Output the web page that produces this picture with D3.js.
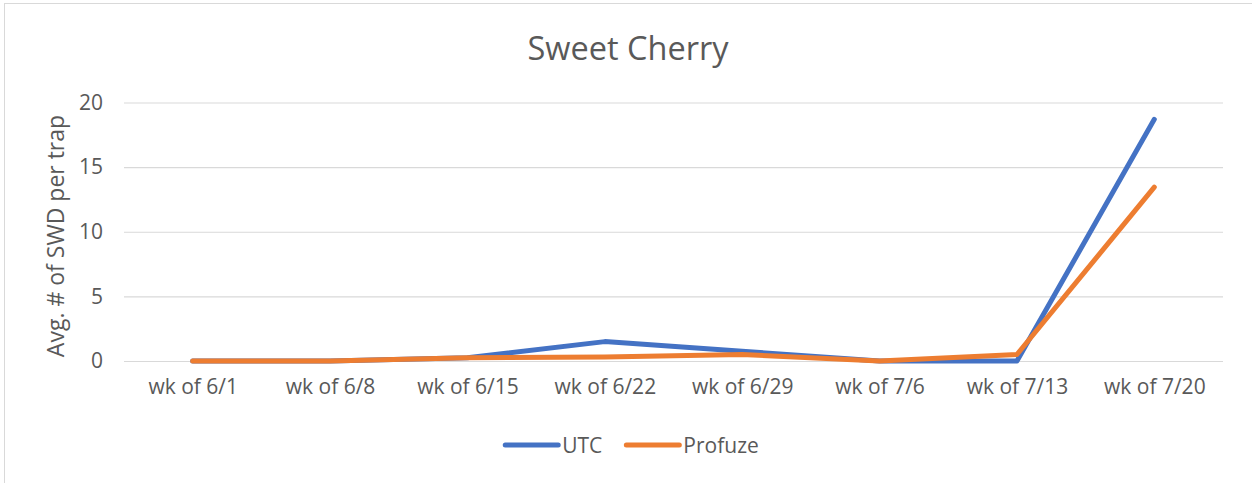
<!DOCTYPE html>
<html>
<head>
<meta charset="utf-8">
<script src="https://cdn.jsdelivr.net/npm/d3@7"></script>
<style>
  body { margin: 0; background: #fff; }
  svg { display: block; font-family: "Open Sans", sans-serif; }
</style>
</head>
<body>
<div id="chart"></div>
<script>
// donnees du graphique
const weeks = ['wk of 6/1', 'wk of 6/8', 'wk of 6/15', 'wk of 6/22', 'wk of 6/29', 'wk of 7/6', 'wk of 7/13', 'wk of 7/20'];
const utc = [0, 0, 0.25, 1.5, 0.75, 0, 0, 18.7];
const profuze = [0, 0, 0.25, 0.3, 0.5, 0, 0.5, 13.45];
const yTicks = [0, 5, 10, 15, 20];
const seriesNames = ['UTC', 'Profuze'];
const seriesColors = ['#4472C4', '#ED7D31'];

// dimensions
let width = 1252;
let height = 483;
let plot = { left: 124, right: 1223, top: 102.5, bottom: 361 };
let textColor = '#595959';
let tickSize = '21px';

let svg = d3.select('#chart').append('svg')
    .attr('width', width)
    .attr('height', height);

// cadre
svg.append('rect')
    .attr('x', 4.5)
    .attr('y', 3.5)
    .attr('width', 1250)
    .attr('height', 490)
    .attr('fill', '#fff')
    .attr('stroke', '#D9D9D9')
    .attr('stroke-width', 1);

let x = d3.scalePoint()
    .domain(weeks)
    .range([plot.left, plot.right])
    .padding(0.5);

let y = d3.scaleLinear()
    .domain([0, 20])
    .range([plot.bottom, plot.top]);

// grille + axe y
let yAxis = svg.append('g')
    .attr('transform', 'translate(' + plot.left + ',0)')
    .call(d3.axisLeft(y).tickValues(yTicks).tickSize(-(plot.right - plot.left)).tickPadding(21));

yAxis.select('.domain').remove();
yAxis.selectAll('.tick line')
    .attr('stroke', '#D9D9D9')
    .attr('stroke-width', 1.2);
yAxis.selectAll('.tick text')
    .attr('fill', textColor)
    .attr('font-size', tickSize)
    .attr('font-family', '"Open Sans", sans-serif');

// axe x
let xAxis = svg.append('g')
    .attr('transform', 'translate(0,' + plot.bottom + ')')
    .call(d3.axisBottom(x).tickSize(0).tickPadding(18));

xAxis.select('.domain').remove();
xAxis.selectAll('.tick text')
    .attr('fill', textColor)
    .attr('font-size', tickSize)
    .attr('font-family', '"Open Sans", sans-serif');

// courbes
let line = d3.line()
    .x((d, i) => x(weeks[i]))
    .y(d => y(d));

[utc, profuze].forEach(function(serie, k){
    svg.append('path')
        .datum(serie)
        .attr('fill', 'none')
        .attr('stroke', seriesColors[k])
        .attr('stroke-width', 5)
        .attr('stroke-linecap', 'round')
        .attr('stroke-linejoin', 'round')
        .attr('d', line);
});

// titre
svg.append('text')
    .attr('x', 628)
    .attr('y', 60)
    .attr('text-anchor', 'middle')
    .attr('fill', textColor)
    .attr('font-size', '32.5px')
    .text('Sweet Cherry');

// titre axe y
svg.append('text')
    .attr('transform', 'translate(64,236) rotate(-90)')
    .attr('text-anchor', 'middle')
    .attr('fill', textColor)
    .attr('font-size', '23px')
    .text('Avg. # of SWD per trap');

// legende
let legend = svg.append('g');
let cursor = 0;
let gap = 22;
seriesNames.forEach(function(name, k){
    let item = legend.append('g').attr('transform', 'translate(' + cursor + ',0)');
    item.append('line')
        .attr('x1', 2).attr('x2', 55)
        .attr('y1', 0).attr('y2', 0)
        .attr('stroke', seriesColors[k])
        .attr('stroke-width', 5)
        .attr('stroke-linecap', 'round');
    let t = item.append('text')
        .attr('x', 59)
        .attr('y', 7.5)
        .attr('fill', textColor)
        .attr('font-size', tickSize)
        .text(name);
    cursor += 59 + t.node().getComputedTextLength() + gap;
});
let legendWidth = cursor - gap;
legend.attr('transform', 'translate(' + (631 - legendWidth / 2) + ',445)');
</script>
</body>
</html>
